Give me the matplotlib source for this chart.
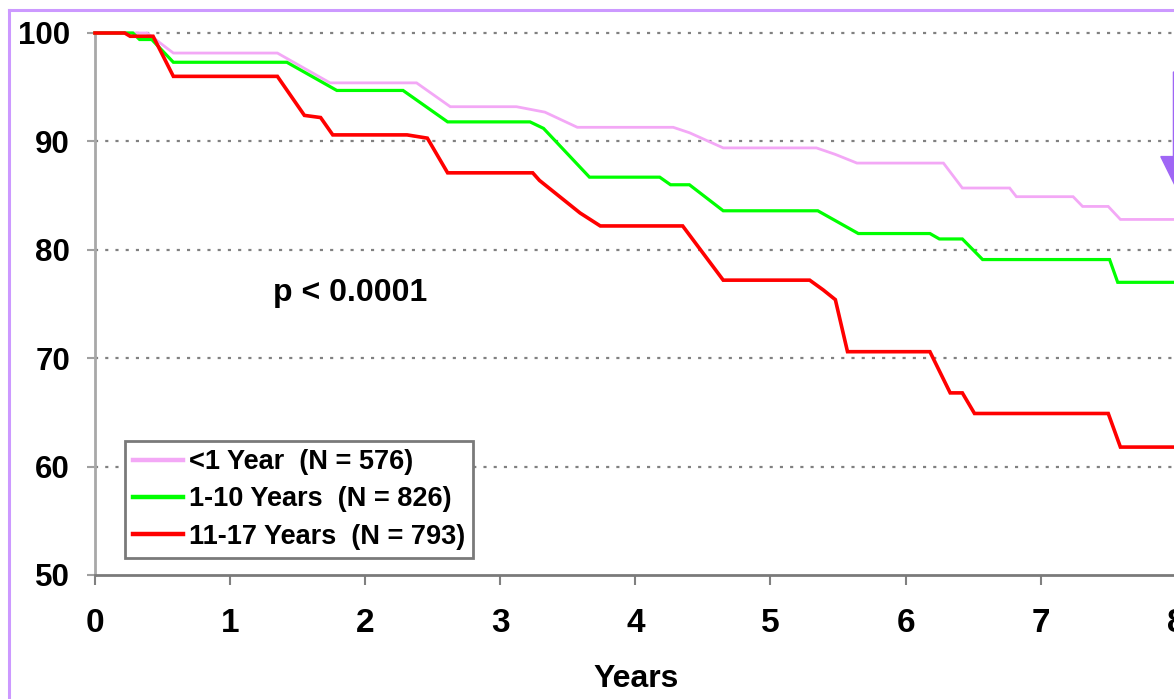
import matplotlib
matplotlib.use('Agg')
import matplotlib.pyplot as plt
from matplotlib.lines import Line2D

plt.rcParams['font.family'] = ['Liberation Sans', 'DejaVu Sans']
plt.rcParams['font.weight'] = 'bold'

######### Data #########
years_lt1 = [0, 0.385, 0.58, 1.35, 1.74, 2.38, 2.63, 3.12, 3.33, 3.57, 4.28, 4.40,
             4.65, 5.34, 5.48, 5.64, 6.28, 6.42, 6.77, 6.82, 7.24, 7.31, 7.50, 7.59, 8]
surv_lt1 = [100, 100, 98.15, 98.15, 95.4, 95.4, 93.2, 93.2, 92.7, 91.3, 91.3, 90.8,
            89.4, 89.4, 88.8, 88.0, 88.0, 85.7, 85.7, 84.9, 84.9, 84.0, 84.0, 82.8, 82.8]

years_1_10 = [0, 0.28, 0.33, 0.42, 0.58, 1.42, 1.79, 2.28, 2.61, 3.22, 3.32, 3.66,
              4.18, 4.26, 4.40, 4.65, 5.35, 5.65, 6.18, 6.25, 6.42, 6.57, 7.51, 7.57, 8]
surv_1_10 = [100, 100, 99.4, 99.4, 97.3, 97.3, 94.7, 94.7, 91.8, 91.8, 91.2, 86.7,
             86.7, 86.0, 86.0, 83.6, 83.6, 81.5, 81.5, 81.0, 81.0, 79.1, 79.1, 77.0, 77.0]

years_11_17 = [0, 0.22, 0.26, 0.43, 0.58, 1.35, 1.55, 1.67, 1.76, 2.31, 2.46, 2.61,
               3.24, 3.29, 3.59, 3.74, 4.35, 4.65, 5.29, 5.39, 5.48, 5.57, 6.18, 6.33,
               6.42, 6.51, 7.50, 7.59, 8]
surv_11_17 = [100, 100, 99.7, 99.7, 96.0, 96.0, 92.4, 92.2, 90.6, 90.6, 90.3, 87.1,
              87.1, 86.4, 83.4, 82.2, 82.2, 77.2, 77.2, 76.3, 75.4, 70.6, 70.6, 66.8,
              66.8, 64.9, 64.9, 61.8, 61.8]

labels = ['<1 Year  (N = 576)', '1-10 Years  (N = 826)', '11-17 Years  (N = 793)']
colors = ['#F3A8F6', '#00FF00', '#FF0000']
widths = [2.0, 2.3, 2.6]

x_ticks = [0, 1, 2, 3, 4, 5, 6, 7, 8]
y_ticks = [50, 60, 70, 80, 90, 100]

W, H = 1174, 699
fig = plt.figure(figsize=(W / 100, H / 100), dpi=100)
fig.patch.set_facecolor('white')

# axes placed in pixels: x 0->95, 8->1176 ; y 50->575, 101->22
x0, x8 = 95, 1175.8
y50, y101 = 575, 575 - 51 * 10.84
ax = fig.add_axes([x0 / W, (H - y50) / H, (x8 - x0) / W, (y50 - y101) / H])

for xs, ys, c, lw in zip([years_lt1, years_1_10, years_11_17],
                         [surv_lt1, surv_1_10, surv_11_17], colors, widths):
    ax.plot(xs, ys, '-', color=c, linewidth=lw, solid_joinstyle='miter',
            clip_on=False, zorder=3)

ax.set_xlim(0, 8)
ax.set_ylim(50, 101)
ax.set_xticks(x_ticks)
ax.set_yticks(y_ticks)

# dotted horizontal grid
for y in y_ticks[1:]:
    ax.axhline(y, color='#808080', linewidth=1.6, linestyle=(0, (1.4, 3.2)),
               zorder=1, clip_on=False)

for s in ['top', 'right']:
    ax.spines[s].set_visible(False)
ax.spines['left'].set_color('#A8A8A8')
ax.spines['left'].set_linewidth(2)
ax.spines['left'].set_bounds(50, 100)
ax.spines['bottom'].set_color('#7A7A7A')
ax.spines['bottom'].set_linewidth(2)

ax.tick_params(axis='x', direction='out', length=7, width=1.5, color='#808080',
               pad=17, labelsize=24)
ax.tick_params(axis='y', direction='out', length=6, width=1.5, color='#A0A0A0',
               pad=12, labelsize=22.5)
for lab in ax.get_xticklabels() + ax.get_yticklabels():
    lab.set_fontweight('bold')

ax.text(1.32, 76.0, 'p < 0.0001', fontsize=23, fontweight='bold',
        ha='left', va='center')

fig.text(636 / W, 1 - 679 / H, 'Years', fontsize=23, fontweight='bold',
         ha='center', va='center')

handles = [Line2D([0], [0], color=c, linewidth=3.2) for c in colors]
leg = ax.legend(handles, labels, loc='lower left',
                bbox_to_anchor=((125 - x0) / (x8 - x0), (y50 - 558) / (y50 - y101)),
                borderaxespad=0, prop={'weight': 'bold', 'size': 19.5},
                handlelength=1.85, handletextpad=0.2, labelspacing=0.42,
                borderpad=0.3, fancybox=False, framealpha=1,
                edgecolor='#7A7A7A')
leg.get_frame().set_linewidth(2)

# purple arrow at right edge
ax.arrow(8.0, 96.4, 0, -10.6, width=0.035, head_width=0.222, head_length=2.8,
         length_includes_head=True, color='#9F66F5', clip_on=False, zorder=4)

# purple frame around the picture
fig.add_artist(Line2D([9 / W, 9 / W], [0, 1 - 10 / H], color='#CC99FF',
                      linewidth=2.2, transform=fig.transFigure))
fig.add_artist(Line2D([9 / W, 1], [1 - 10 / H, 1 - 10 / H], color='#CC99FF',
                      linewidth=2.2, transform=fig.transFigure))

fig.savefig('out.png', dpi=100)
